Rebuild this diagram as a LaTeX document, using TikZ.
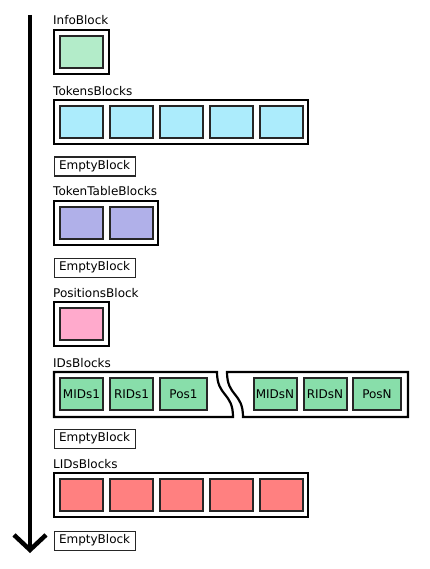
\documentclass[tikz,border=0pt]{standalone}
\usepackage{fontspec}
\setmainfont{DejaVu Sans}
\usetikzlibrary{arrows.meta}
\definecolor{infogreen}{RGB}{179,236,201}
\definecolor{tokencyan}{RGB}{172,236,252}
\definecolor{tablepurple}{RGB}{176,176,233}
\definecolor{pospink}{RGB}{255,170,204}
\definecolor{idsgreen}{RGB}{136,222,170}
\definecolor{lidsred}{RGB}{255,128,128}
\tikzset{
  outerbox/.style={draw, line width=2.2pt, inner sep=0pt, minimum height=44pt},
  blockbox/.style={draw=black!85, line width=2pt, inner sep=0pt, minimum width=43pt, minimum height=32pt},
  emptybox/.style={draw=black!85, line width=1.2pt, inner sep=0pt, anchor=north west, minimum width=81pt, minimum height=19pt},
  blocklabel/.style={anchor=base west, inner sep=0pt}
}
\begin{document}
\begin{tikzpicture}[x=1pt, y=1pt, font=\fontsize{12}{14}\selectfont]
            \useasboundingbox (0,0) rectangle (429,-569);

            \coordinate (start) at (30,-15);
            \coordinate (end) at (30,-553);
            \draw[line width=4.5pt, -{Straight Barb[length=15pt, width=32pt]}] (start) -- (end);

            % InfoBlock
            \node[blocklabel] (infolbl) at (53,-25) {InfoBlock};
            \node[outerbox, minimum width=55pt] (info) at (81.5,-52) {};
            \node[blockbox, fill=infogreen] (info1) at (81.5,-52) {};

            % TokensBlocks
            \node[blocklabel] (toklbl) at (53,-96) {TokensBlocks};
            \node[outerbox, minimum width=254pt] (tok) at (181,-122) {};
            \node[blockbox, fill=tokencyan] (tok1) at (81.5,-122) {};
            \node[blockbox, fill=tokencyan] (tok2) at (131.5,-122) {};
            \node[blockbox, fill=tokencyan] (tok3) at (181.5,-122) {};
            \node[blockbox, fill=tokencyan] (tok4) at (231.5,-122) {};
            \node[blockbox, fill=tokencyan] (tok5) at (281.5,-122) {};

            \node[emptybox] (empty1) at (53.5,-156.5) {EmptyBlock};

            % TokenTableBlocks
            \node[blocklabel] (tablbl) at (53,-196) {TokenTableBlocks};
            \node[outerbox, minimum width=104pt] (tab) at (106,-223) {};
            \node[blockbox, fill=tablepurple] (tab1) at (81.5,-223) {};
            \node[blockbox, fill=tablepurple] (tab2) at (131.5,-223) {};

            \node[emptybox] (empty2) at (53.5,-257.5) {EmptyBlock};

            % PositionsBlock
            \node[blocklabel] (poslbl) at (53,-297) {PositionsBlock};
            \node[outerbox, minimum width=55pt] (pos) at (81.5,-324) {};
            \node[blockbox, fill=pospink] (pos1) at (81.5,-324) {};

            % IDsBlocks
            \node[blocklabel] (idslbl) at (53,-367) {IDsBlocks};
            \coordinate (idsa) at (54,-372);
            \coordinate (idsb) at (217,-372);
            \coordinate (idsc) at (233,-417);
            \coordinate (idsd) at (54,-417);
            \coordinate (idse) at (227,-372);
            \coordinate (idsf) at (408,-372);
            \coordinate (idsg) at (408,-417);
            \coordinate (idsh) at (243,-417);
            \draw[line width=2.2pt, line join=miter] (idsa) -- (idsb) .. controls (217,-397) and (233,-392) .. (idsc) -- (idsd) -- cycle;
            \draw[line width=2.2pt, line join=miter] (idse) -- (idsf) -- (idsg) -- (idsh) .. controls (243,-392) and (227,-397) .. (idse) -- cycle;
            \node[blockbox, fill=idsgreen] (mids1) at (81.5,-394) {MIDs1};
            \node[blockbox, fill=idsgreen] (rids1) at (131.5,-394) {RIDs1};
            \node[blockbox, fill=idsgreen, minimum width=47pt] (pos1) at (183.5,-394) {Pos1};
            \node[blockbox, fill=idsgreen] (midsn) at (275,-394) {MIDsN};
            \node[blockbox, fill=idsgreen] (ridsn) at (325,-394) {RIDsN};
            \node[blockbox, fill=idsgreen, minimum width=48pt] (posn) at (377,-394) {PosN};

            \node[emptybox] (empty3) at (53.5,-428.5) {EmptyBlock};

            % LIDsBlocks
            \node[blocklabel] (lidslbl) at (53,-468) {LIDsBlocks};
            \node[outerbox, minimum width=254pt] (lids) at (181,-495) {};
            \node[blockbox, fill=lidsred] (lids1) at (81.5,-495) {};
            \node[blockbox, fill=lidsred] (lids2) at (131.5,-495) {};
            \node[blockbox, fill=lidsred] (lids3) at (181.5,-495) {};
            \node[blockbox, fill=lidsred] (lids4) at (231.5,-495) {};
            \node[blockbox, fill=lidsred] (lids5) at (281.5,-495) {};

            \node[emptybox] (empty4) at (53.5,-530.5) {EmptyBlock};
        \end{tikzpicture}
\end{document}
